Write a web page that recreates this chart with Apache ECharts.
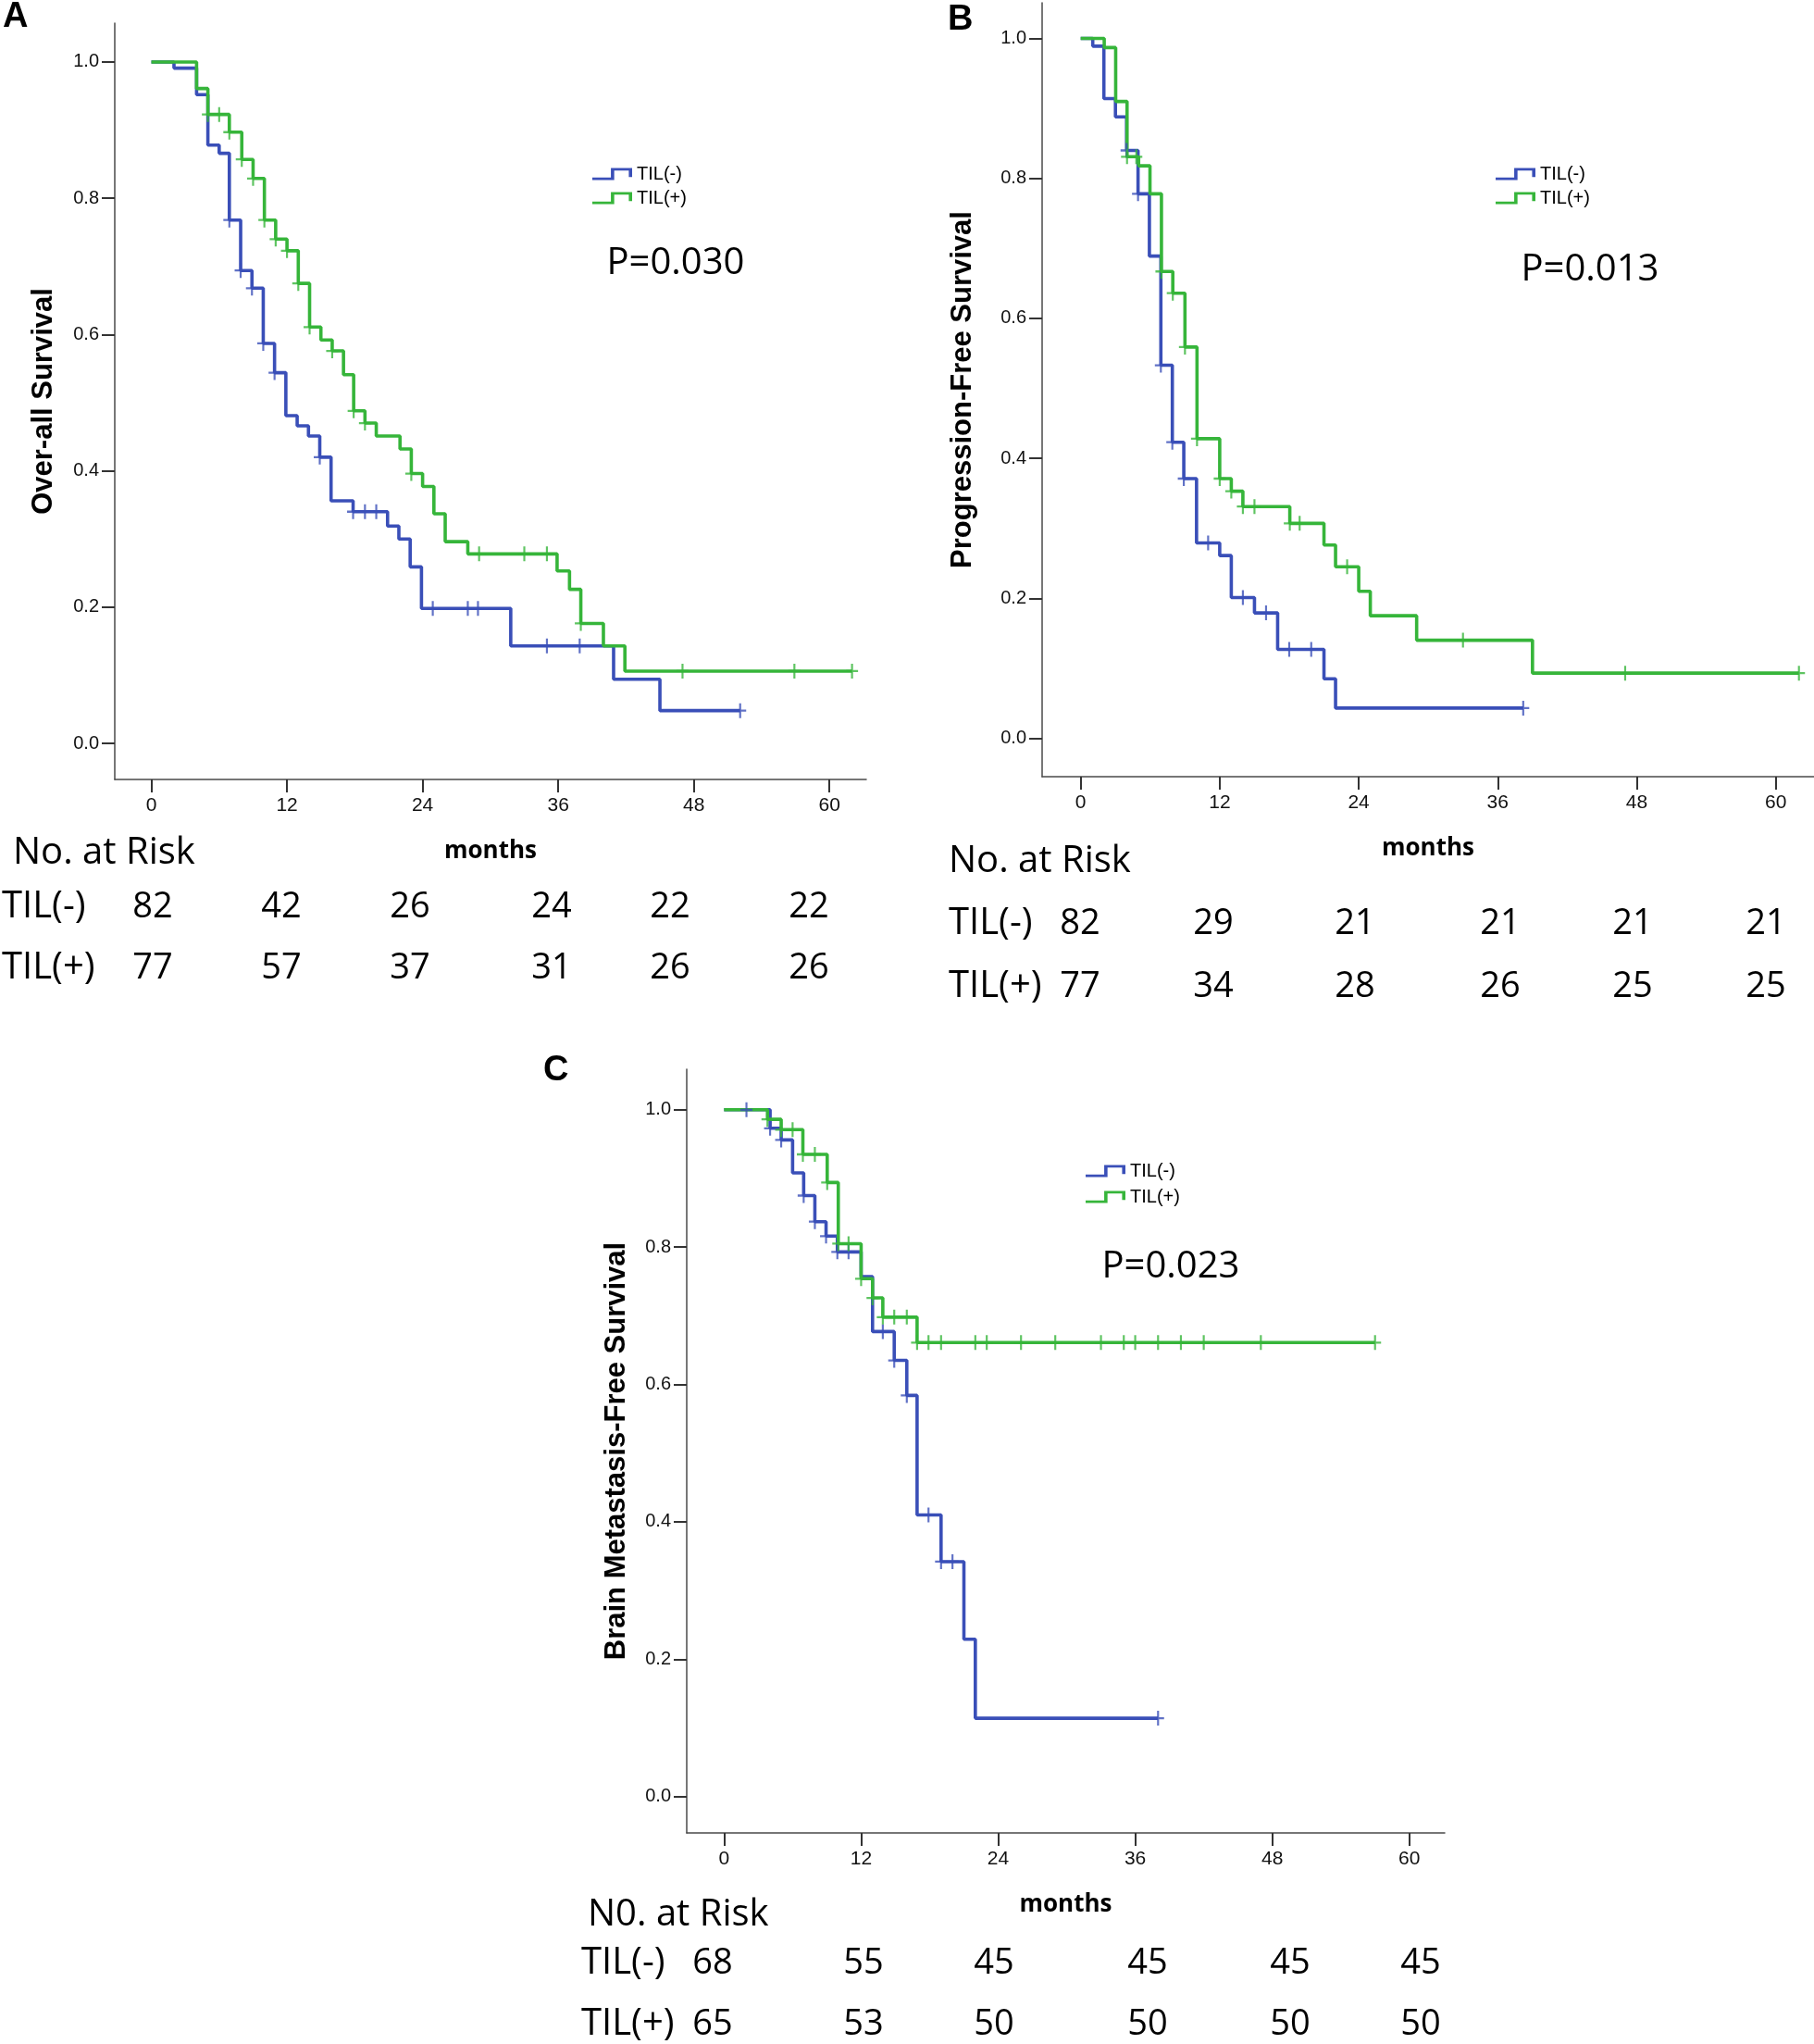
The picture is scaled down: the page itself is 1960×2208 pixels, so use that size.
<!DOCTYPE html>
<html>
<head>
<meta charset="utf-8">
<script src="https://cdn.jsdelivr.net/npm/echarts@6/dist/echarts.min.js"></script>
<style>
html,body{margin:0;padding:0;background:#fff;}
#chart{width:1960px;height:2208px;}
</style>
</head>
<body>
<div id="chart"></div>
<script>
// ---------------- DATA ----------------
const monthTicks = [0, 12, 24, 36, 48, 60];
const survTicks = [0, 0.2, 0.4, 0.6, 0.8, 1.0];
const groupNames = ['TIL(-)', 'TIL(+)'];

// Panel A: Over-all Survival
const A_neg_times = [2.0, 4.0, 5.0, 6.0, 6.9, 7.9, 8.9, 9.9, 10.9, 11.9, 12.9, 13.9, 14.9, 15.9, 17.85, 20.9, 21.9, 22.9, 23.9, 31.8, 40.9, 45.0];
const A_neg_surv  = [0.991, 0.952, 0.878, 0.866, 0.768, 0.694, 0.668, 0.587, 0.544, 0.481, 0.466, 0.451, 0.420, 0.356, 0.340, 0.319, 0.300, 0.259, 0.198, 0.143, 0.094, 0.048];
const A_neg_cens  = [6.9, 7.9, 8.9, 9.9, 10.9, 14.9, 17.85, 18.9, 19.9, 24.9, 28.0, 28.9, 35.0, 37.9];
const A_neg_end   = 52.1;
const A_pos_times = [4.0, 5.0, 6.9, 8.0, 9.0, 10.0, 11.0, 12.0, 13.0, 14.0, 15.0, 16.0, 17.0, 17.9, 18.9, 19.9, 22.0, 23.0, 24.0, 25.0, 26.0, 28.0, 35.9, 37.0, 38.0, 40.0, 41.9];
const A_pos_surv  = [0.961, 0.923, 0.897, 0.857, 0.829, 0.768, 0.740, 0.723, 0.675, 0.611, 0.592, 0.576, 0.541, 0.488, 0.470, 0.451, 0.432, 0.396, 0.377, 0.337, 0.296, 0.278, 0.253, 0.226, 0.176, 0.143, 0.106];
const A_pos_cens  = [5.0, 6.0, 6.9, 8.0, 9.0, 10.0, 11.0, 12.0, 13.0, 14.0, 16.0, 17.9, 18.9, 23.0, 29.0, 33.0, 35.0, 38.0, 47.0, 56.9];
const A_pos_end   = 62.0;
const A_risk_neg = [82, 42, 26, 24, 22, 22];
const A_risk_pos = [77, 57, 37, 31, 26, 26];

// Panel B: Progression-Free Survival
const B_neg_times = [1.04, 2.0, 3.0, 3.96, 4.95, 5.93, 6.92, 7.91, 8.9, 10.0, 12.0, 13.0, 15.0, 17.0, 21.0, 22.0];
const B_neg_surv  = [0.989, 0.914, 0.888, 0.840, 0.778, 0.689, 0.533, 0.423, 0.371, 0.279, 0.261, 0.201, 0.179, 0.127, 0.085, 0.043];
const B_neg_cens  = [3.96, 4.95, 6.92, 7.91, 8.9, 11.0, 14.0, 16.0, 18.0, 19.9];
const B_neg_end   = 38.2;
const B_pos_times = [2.03, 3.02, 4.0, 5.0, 5.98, 6.97, 7.95, 9.0, 10.04, 12.0, 13.0, 14.0, 18.05, 21.0, 22.0, 24.0, 25.0, 29.0, 39.0];
const B_pos_surv  = [0.987, 0.910, 0.831, 0.818, 0.778, 0.667, 0.636, 0.559, 0.428, 0.371, 0.353, 0.331, 0.307, 0.276, 0.245, 0.210, 0.175, 0.140, 0.093];
const B_pos_cens  = [4.0, 4.8, 6.97, 7.95, 9.0, 10.04, 12.0, 13.0, 14.0, 15.0, 18.05, 18.9, 23.0, 33.0, 47.0];
const B_pos_end   = 62.0;
const B_risk_neg = [82, 29, 21, 21, 21, 21];
const B_risk_pos = [77, 34, 28, 26, 25, 25];

// Panel C: Brain Metastasis-Free Survival
const C_neg_times = [4.03, 5.0, 6.0, 6.97, 7.95, 8.93, 9.92, 12.0, 13.0, 14.9, 16.0, 16.9, 19.0, 21.0, 22.0];
const C_neg_surv  = [0.973, 0.956, 0.908, 0.875, 0.837, 0.816, 0.793, 0.757, 0.677, 0.635, 0.584, 0.410, 0.342, 0.229, 0.114];
const C_neg_cens  = [1.96, 4.03, 5.0, 6.97, 7.95, 8.93, 9.92, 10.9, 13.9, 14.9, 16.0, 17.9, 19.0, 20.0];
const C_neg_end   = 38.0;
const C_pos_times = [3.8, 5.0, 6.9, 9.03, 10.0, 12.0, 13.0, 13.9, 16.9];
const C_pos_surv  = [0.986, 0.971, 0.935, 0.894, 0.805, 0.754, 0.726, 0.698, 0.661];
const C_pos_cens  = [3.8, 5.0, 6.0, 6.9, 7.95, 9.03, 10.0, 10.9, 12.0, 13.0, 13.9, 14.9, 16.0, 16.9, 17.9, 19.0, 22.0, 23.0, 26.0, 29.0, 33.0, 35.0, 36.0, 38.0, 40.0, 42.0, 47.0];
const C_pos_end   = 57.0;
const C_risk_neg = [68, 55, 45, 45, 45, 45];
const C_risk_pos = [65, 53, 50, 50, 50, 50];

const pValues = ['P=0.030', 'P=0.013', 'P=0.023'];
const yTitles = ['Over-all Survival', 'Progression-Free Survival', 'Brain Metastasis-Free Survival'];
const riskTitles = ['No. at Risk', 'No. at Risk', 'N0. at Risk'];
const panelLetters = ['A', 'B', 'C'];

// ---------------- LAYOUT / STYLE ----------------
const BLUE = '#3a4fb8';
const GREEN = '#36b53a';
const AXIS = '#4a4a4a';
const W = 1960;

const panels = [
  {grid:{left:124, top:25, right:W-936, height:817}, x:[-3.24,63.26], y:[-0.053,1.057], yGap:61,
   legend:{left:635, top:173, gap:6}, p:[730,285], letter:[3,19],
   risk:{titleX:14, titleY:922, rowX:2, rowY:[980,1046], cols:[165,304,443,596,724,874]}},
  {grid:{left:1126, top:3, right:0, height:836}, x:[-3.33,63.3], y:[-0.055,1.051], yGap:70,
   legend:{left:1611, top:173, gap:6}, p:[1718,292], letter:[1024,22],
   risk:{titleX:1025, titleY:931, rowX:1025, rowY:[998,1066], cols:[1167,1311,1464,1621,1764,1908]}},
  {grid:{left:742, top:1155, right:W-1561, height:825}, x:[-3.27,63.1], y:[-0.053,1.059], yGap:60,
   legend:{left:1168, top:1250, gap:8}, p:[1265,1369], letter:[587,1157],
   risk:{titleX:635, titleY:2069, rowX:628, rowY:[2121,2187], cols:[770,933,1074,1240,1394,1535]}}
];

const groups = [
  {neg:[A_neg_times,A_neg_surv,A_neg_cens,A_neg_end], pos:[A_pos_times,A_pos_surv,A_pos_cens,A_pos_end], risk:[A_risk_neg,A_risk_pos]},
  {neg:[B_neg_times,B_neg_surv,B_neg_cens,B_neg_end], pos:[B_pos_times,B_pos_surv,B_pos_cens,B_pos_end], risk:[B_risk_neg,B_risk_pos]},
  {neg:[C_neg_times,C_neg_surv,C_neg_cens,C_neg_end], pos:[C_pos_times,C_pos_surv,C_pos_cens,C_pos_end], risk:[C_risk_neg,C_risk_pos]}
];

function stepData(times, surv, end) {
  const d = [[0, 1]];
  times.forEach((t, i) => d.push([t, surv[i]]));
  d.push([end, surv[surv.length - 1]]);
  return d;
}
function survAt(times, surv, t) {
  let s = 1;
  for (let i = 0; i < times.length; i++) if (times[i] <= t + 1e-9) s = surv[i];
  return s;
}
function censData(times, surv, cens, end) {
  const d = cens.map(t => [t, survAt(times, surv, t)]);
  d.push([end, surv[surv.length - 1]]);
  return d;
}

const legendIcon = 'path://M0,9.5L14,9.5L14,0L30,0L30,9L27.5,9L27.5,2.5L16.5,2.5L16.5,12L0,12Z';
const plusSymbol = 'path://M5,0H7V6H12V8H7V14H5V8H0V6H5Z';

const grids = [], xAxes = [], yAxes = [], series = [], legends = [], graphics = [];

panels.forEach((P, k) => {
  grids.push(P.grid);
  xAxes.push({
    type:'value', gridIndex:k, min:P.x[0], max:P.x[1],
    name:'months', nameLocation:'middle', nameGap:65,
    nameTextStyle:{fontFamily:'Open Sans', fontWeight:'bold', fontSize:26, color:'#000'},
    axisLine:{show:true, onZero:false, lineStyle:{color:AXIS, width:1.5}},
    axisTick:{show:true, length:14, customValues:monthTicks, lineStyle:{color:'#333', width:2}},
    axisLabel:{customValues:monthTicks, margin:18, fontFamily:'Liberation Sans', fontSize:21, color:'#111'},
    splitLine:{show:false}
  });
  yAxes.push({
    type:'value', gridIndex:k, min:P.y[0], max:P.y[1],
    name:yTitles[k], nameLocation:'middle', nameGap:P.yGap, nameRotate:90,
    nameTextStyle:{fontFamily:'Liberation Sans', fontWeight:'bold', fontSize:31, color:'#000'},
    axisLine:{show:true, onZero:false, lineStyle:{color:AXIS, width:1.5}},
    axisTick:{show:true, length:14, customValues:survTicks, lineStyle:{color:'#333', width:2}},
    axisLabel:{customValues:survTicks, margin:17, fontFamily:'Liberation Sans', fontSize:20, color:'#111',
               formatter:v => Number(v).toFixed(1)},
    splitLine:{show:false}
  });
  const g = groups[k];
  [['neg', BLUE, 0], ['pos', GREEN, 1]].forEach(([key, col, gi]) => {
    const [t, s, c, e] = g[key];
    series.push({
      type:'line', name:groupNames[gi], xAxisIndex:k, yAxisIndex:k,
      step:'end', data:stepData(t, s, e), showSymbol:false, symbol:'none',
      lineStyle:{color:col, width:3.6}, itemStyle:{color:col}, z:2 + gi
    });
    series.push({
      type:'scatter', name:groupNames[gi] + ' censored', xAxisIndex:k, yAxisIndex:k,
      data:censData(t, s, c, e), symbol:plusSymbol, symbolSize:[13, 16],
      itemStyle:{color:col}, z:4 + gi
    });
  });
  legends.push({
    orient:'vertical', left:P.legend.left, top:P.legend.top, itemGap:P.legend.gap,
    itemWidth:43, itemHeight:13, icon:legendIcon, symbolKeepAspect:false, selectedMode:false,
    data:[{name:groupNames[0], itemStyle:{color:BLUE}}, {name:groupNames[1], itemStyle:{color:GREEN}}],
    textStyle:{fontFamily:'Liberation Sans', fontSize:20, color:'#000'}
  });
  graphics.push({type:'text', x:P.p[0], y:P.p[1], style:{text:pValues[k], fontFamily:'Open Sans', fontSize:40,
    fill:'#000', textAlign:'center', textVerticalAlign:'middle'}});
  graphics.push({type:'text', x:P.letter[0], y:P.letter[1], style:{text:panelLetters[k], fontFamily:'Liberation Sans',
    fontWeight:'bold', fontSize:38, fill:'#000', textAlign:'left', textVerticalAlign:'middle'}});
  const R = P.risk;
  graphics.push({type:'text', x:R.titleX, y:R.titleY, style:{text:riskTitles[k], fontFamily:'Open Sans', fontSize:40,
    fill:'#000', textAlign:'left', textVerticalAlign:'middle'}});
  [0, 1].forEach(r => {
    graphics.push({type:'text', x:R.rowX, y:R.rowY[r], style:{text:groupNames[r], fontFamily:'Open Sans', fontSize:40,
      fill:'#000', textAlign:'left', textVerticalAlign:'middle'}});
    g.risk[r].forEach((n, j) => {
      graphics.push({type:'text', x:R.cols[j], y:R.rowY[r], style:{text:String(n), fontFamily:'Open Sans', fontSize:38,
        fill:'#000', textAlign:'center', textVerticalAlign:'middle'}});
    });
  });
});

const chart = echarts.init(document.getElementById('chart'), null, {renderer:'canvas'});
chart.setOption({
  backgroundColor:'#fff',
  animation:false,
  grid:grids, xAxis:xAxes, yAxis:yAxes, series:series, legend:legends,
  graphic:graphics
});
</script>
</body>
</html>
